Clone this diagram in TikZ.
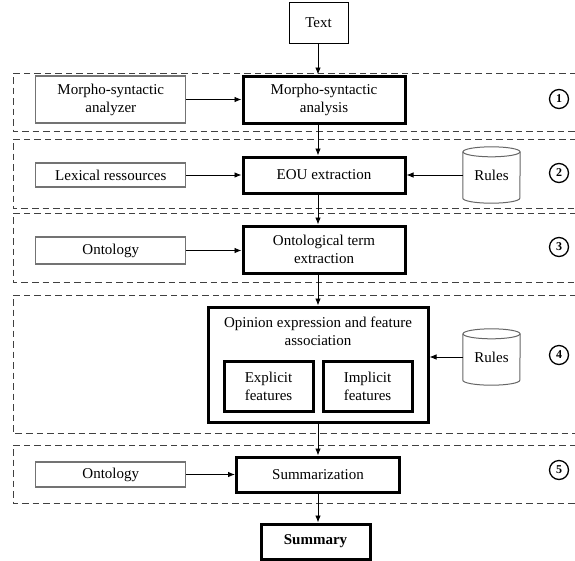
\documentclass[tikz,border=0pt]{standalone}
\usepackage{fontspec}
\setmainfont{Liberation Serif}
\usetikzlibrary{arrows.meta}
\begin{document}
\begin{tikzpicture}[x=1pt,y=-1pt,
  font=\fontsize{15}{18}\selectfont,
  mainbox/.style={draw, line width=3pt, align=center, inner sep=0pt},
  sidebox/.style={draw=black!55, line width=1.1pt, align=center, inner sep=0pt},
  plainbox/.style={draw, line width=0.8pt, align=center, inner sep=0pt},
  dbnode/.style={inner sep=0pt, minimum width=57pt, minimum height=56pt},
  dbline/.style={draw=black!60, line width=1pt},
  panel/.style={dash pattern=on 6.5pt off 4pt, line width=1pt, black!75},
  num/.style={circle, draw, line width=1.3pt, minimum size=19pt, inner sep=0pt, font=\fontsize{12}{12}\selectfont\bfseries},
  arr/.style={-{Latex[length=7pt,width=5.5pt]}, line width=0.8pt}
]
\useasboundingbox[fill=white] (0,0) rectangle (575,560);

% dashed panels (open on the right)
\foreach \t/\b in {73/131, 139/208, 213/282, 295/433, 445/503}{
  \draw[panel] (576,\t) -- (13,\t) -- (13,\b) -- (576,\b);
}

\coordinate (spine) at (318,0);

% nodes
\node[plainbox, minimum width=59pt, minimum height=41pt] (text) at (318.5,22.5) {Text};

\node[sidebox, minimum width=150pt, minimum height=47pt] (analyzer) at (110.8,99.5) {Morpho-syntactic\\analyzer};
\node[mainbox, minimum width=162pt, minimum height=47pt] (analysis) at (324,99.5) {Morpho-syntactic\\analysis};

\node[sidebox, minimum width=150pt, minimum height=24pt] (lexical) at (110.8,175) {Lexical ressources};
\node[mainbox, minimum width=162pt, minimum height=36pt] (eou) at (324,175) {EOU extraction};
\node[dbnode] (rules1) at (491.5,175) {Rules};

\node[sidebox, minimum width=150pt, minimum height=27pt] (onto1) at (110.8,250.5) {Ontology};
\node[mainbox, minimum width=162pt, minimum height=47pt] (ontterm) at (324,249.5) {Ontological term\\extraction};

\node[mainbox, minimum width=220pt, minimum height=115pt] (opinion) at (318,364.5) {};
\node[align=center, inner sep=0pt] (oplabel) at (318,331.5) {Opinion expression and feature\\association};
\node[mainbox, minimum width=89pt, minimum height=50pt] (explicit) at (268.5,386) {Explicit\\features};
\node[mainbox, minimum width=89pt, minimum height=50pt] (implicit) at (367.5,386) {Implicit\\features};
\node[dbnode] (rules2) at (491.5,357) {Rules};

\node[sidebox, minimum width=150pt, minimum height=25pt] (onto2) at (110.8,474.5) {Ontology};
\node[mainbox, minimum width=163pt, minimum height=35pt] (summarization) at (318,474.5) {Summarization};

\node[mainbox, minimum width=109pt, minimum height=35pt, font=\fontsize{15}{18}\selectfont\bfseries] (summary) at (315.5,541.5) {Summary};

% cylinders
\foreach \r in {rules1, rules2}{
  \draw[dbline] ([yshift=-5pt]\r.north west) -- ([yshift=5pt]\r.south west)
     arc[start angle=180, end angle=360, x radius=28.5pt, y radius=5pt]
     -- ([yshift=-5pt]\r.north east);
  \draw[dbline] ([yshift=-5pt]\r.north) ellipse [x radius=28.5pt, y radius=5pt];
}

% step numbers
\node[num] (n1) at (559,99) {1};
\node[num] (n2) at (559,173) {2};
\node[num] (n3) at (559,247) {3};
\node[num] (n4) at (559,355) {4};
\node[num] (n5) at (559,470) {5};

% connectors
\draw[arr] (text.south -| spine) -- (analysis.north -| spine);
\draw[arr] (analysis.south -| spine) -- (eou.north -| spine);
\draw[arr] (eou.south -| spine) -- (ontterm.north -| spine);
\draw[arr] (ontterm.south -| spine) -- (opinion.north -| spine);
\draw[arr] (opinion.south -| spine) -- (summarization.north -| spine);
\draw[arr] (summarization.south -| spine) -- (summary.north -| spine);

\draw[arr] (analyzer.east) -- (analysis.west |- analyzer.east);
\draw[arr] (lexical.east) -- (eou.west |- lexical.east);
\draw[arr] (rules1.west) -- (eou.east |- rules1.west);
\draw[arr] (onto1.east) -- (ontterm.west |- onto1.east);
\draw[arr] (rules2.west) -- (opinion.east |- rules2.west);
\draw[arr] (onto2.east) -- (summarization.west |- onto2.east);
\end{tikzpicture}
\end{document}
